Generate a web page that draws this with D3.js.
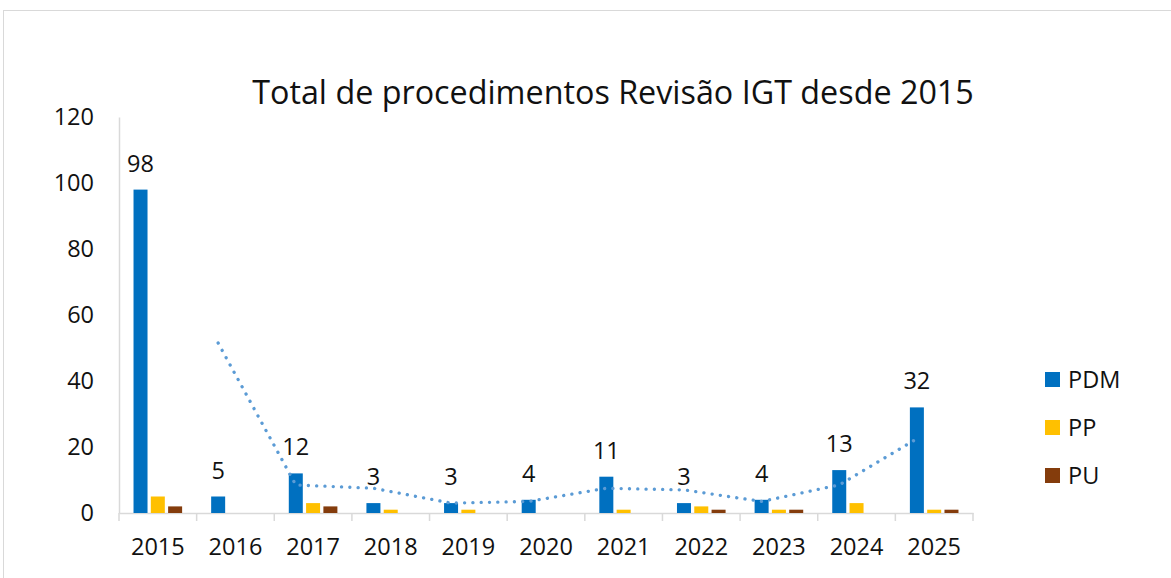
<!DOCTYPE html>
<html><head><meta charset="utf-8">
<script src="https://cdn.jsdelivr.net/npm/d3@7"></script>
<style>body{margin:0;background:#fff}svg{display:block}text{font-family:"Open Sans","Liberation Sans",sans-serif;fill:#111}</style>
</head><body>
<script>
const years = ["2015","2016","2017","2018","2019","2020","2021","2022","2023","2024","2025"];
const seriesNames = ["PDM","PP","PU"];
const pdm = [98,5,12,3,3,4,11,3,4,13,32];
const pp  = [5,0,3,1,1,0,1,2,1,3,1];
const pu  = [2,0,2,0,0,0,0,1,1,0,1];
const trend = [null,51.5,8.5,7.5,3,3.5,7.5,7,3.5,8.5,22.5];
const yTicks = [0,20,40,60,80,100,120];
const colors = ["#0070C0","#FFC000","#843C0C"];
const title = "Total de procedimentos Revisão IGT desde 2015";

const W = 1171, H = 578;
const svg = d3.select("body").append("svg").attr("width",W).attr("height",H);
svg.append("rect").attr("x",3.5).attr("y",10.5).attr("width",W).attr("height",H)
  .attr("fill","#fff").attr("stroke","#D9D9D9");

const m = {l:119, r:973, t:117, b:513};
const x = d3.scaleBand().domain(years).range([m.l,m.r]);
const y = d3.scaleLinear().domain([0,120]).range([m.b,m.t]);
const values = [pdm,pp,pu];
const bw = 14, gap = 3.3;
const offs = [-(bw+gap), 0, bw+gap];
const fs = "23.5px";

svg.append("text").attr("x",(253+973)/2).attr("y",104).attr("text-anchor","middle")
  .style("font-size","32.3px").text(title);

// y axis
const ya = svg.append("g").attr("transform",`translate(${m.l},0)`)
  .call(d3.axisLeft(y).tickValues(yTicks).tickSize(0).tickPadding(25));
ya.select(".domain").attr("stroke","#D9D9D9").attr("stroke-width",1.5);
ya.selectAll("text").style("font-size",fs).attr("fill","#111").style("font-family",null);

// x axis
const xa = svg.append("g").attr("transform",`translate(0,${m.b})`)
  .call(d3.axisBottom(x).tickSize(0).tickPadding(25));
xa.select(".domain").attr("stroke","#D9D9D9").attr("stroke-width",1.5);
xa.selectAll("text").style("font-size",fs).attr("fill","#111").style("font-family",null);
const bounds = years.map(d=>x(d)).concat([m.r]);
svg.append("g").selectAll("line").data(bounds).join("line")
  .attr("x1",d=>d).attr("x2",d=>d).attr("y1",m.b).attr("y2",m.b+8)
  .attr("stroke","#D9D9D9").attr("stroke-width",1.5);

// bars
values.forEach((vals,si)=>{
  svg.append("g").selectAll("rect").data(years).join("rect")
    .attr("x",d=>x(d)+x.bandwidth()/2+offs[si]-bw/2)
    .attr("width",bw)
    .attr("y",(d,i)=>y(vals[i]))
    .attr("height",(d,i)=>m.b-y(vals[i]))
    .attr("fill",colors[si]);
});

// trendline
const line = d3.line().defined(d=>d[1]!=null)
  .x(d=>x(d[0])+x.bandwidth()/2+offs[0]).y(d=>y(d[1]));
svg.append("path").datum(years.map((d,i)=>[d,trend[i]]))
  .attr("d",line).attr("fill","none").attr("stroke","#5B9BD5")
  .attr("stroke-width",3.3).attr("stroke-linecap","round").attr("stroke-dasharray","0.1 8.2");

// labels
svg.append("g").selectAll("text").data(years).join("text")
  .attr("x",d=>x(d)+x.bandwidth()/2+offs[0])
  .attr("y",(d,i)=>y(pdm[i])-18)
  .attr("text-anchor","middle").style("font-size",fs)
  .text((d,i)=>pdm[i]);

// legend
const lg = svg.append("g");
seriesNames.forEach((n,i)=>{
  lg.append("rect").attr("x",1045).attr("y",372+i*48).attr("width",15).attr("height",15).attr("fill",colors[i]);
  lg.append("text").attr("x",1068).attr("y",388+i*48).style("font-size",fs).text(n);
});
</script>
</body></html>
